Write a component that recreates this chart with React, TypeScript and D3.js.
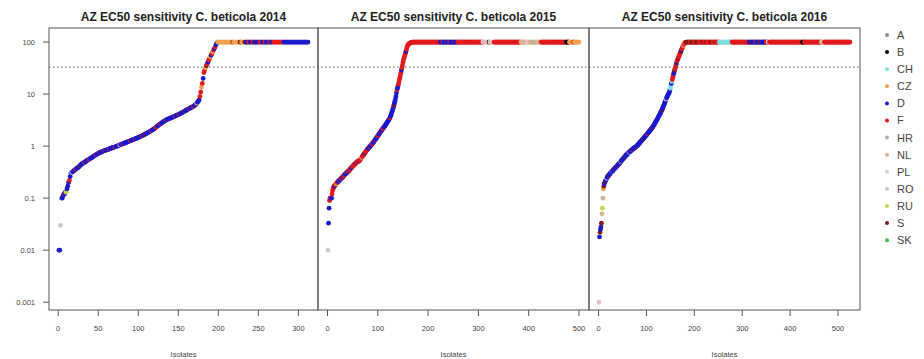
import React from "react";
import * as d3 from "d3";

const W = 924;
const H = 359;

// legend order + colours
const countries = ["A", "B", "CH", "CZ", "D", "F", "HR", "NL", "PL", "RO", "RU", "S", "SK"];
const countryColors = ["#8c8c8c", "#000000", "#7fdde0", "#f0a050", "#1a1acd", "#e31a1c", "#b0b0b0", "#d8b090", "#e6c3c3", "#c8c8c8", "#c5d44a", "#8b1a1a", "#3ec43e"];
// one-letter codes used in the origin strings below
const codeOf: Record<string, string> = { a: "A", b: "B", c: "CH", z: "CZ", d: "D", f: "F", h: "HR", n: "NL", p: "PL", o: "RO", u: "RU", s: "S", k: "SK" };

const years = ["2014", "2015", "2016"];

// sorted EC50 values below the cap
const curve2014 = [
  0.01, 0.01, 0.03, 0.1,
  0.1, 0.11, 0.12, 0.12, 0.13, 0.13,
  0.15, 0.17, 0.2, 0.22, 0.26, 0.3,
  0.31, 0.32, 0.33, 0.34, 0.35, 0.36, 0.37, 0.38, 0.39, 0.4, 0.42, 0.43, 0.45, 0.46,
  0.47, 0.48, 0.49, 0.5, 0.51, 0.53, 0.54, 0.55, 0.56, 0.58, 0.59, 0.6, 0.62, 0.63, 0.65, 0.66, 0.68, 0.69, 0.71, 0.72, 0.74,
  0.75, 0.76, 0.77, 0.78, 0.8, 0.81, 0.82, 0.83, 0.84, 0.85, 0.86, 0.87, 0.88, 0.9, 0.91, 0.92, 0.93, 0.94, 0.96, 0.97, 0.98, 1.0, 1.0, 1.02, 1.04, 1.05, 1.07, 1.08, 1.1, 1.11, 1.13, 1.14, 1.16, 1.18, 1.19, 1.21, 1.23, 1.25, 1.27, 1.28, 1.3,
  1.32, 1.34, 1.36, 1.38, 1.4, 1.42, 1.44, 1.46, 1.49, 1.51, 1.54, 1.56, 1.59, 1.62, 1.65, 1.68, 1.71, 1.74, 1.78, 1.81, 1.85, 1.89, 1.93, 1.97, 2.02, 2.06, 2.11, 2.16, 2.22, 2.3,
  2.36, 2.43, 2.5, 2.57, 2.64, 2.7, 2.77, 2.84, 2.9, 2.97, 3.05, 3.12, 3.2,
  3.25, 3.3, 3.35, 3.4, 3.45, 3.5, 3.55, 3.6, 3.66, 3.72, 3.78, 3.84, 3.9, 3.97, 4.04, 4.1, 4.18, 4.26, 4.34, 4.42, 4.5, 4.6, 4.7, 4.8, 4.9,
  5.0, 5.1, 5.2, 5.3, 5.4, 5.5, 5.6, 5.7, 5.8, 6.0, 6.2, 6.4, 6.7, 7.0, 7.3, 7.7,
  9, 11, 13.6, 16, 20, 26, 29, 32, 35, 38, 41, 45, 48, 52, 56, 60, 65, 70, 75, 80, 88, 95,
];
const curve2015 = [
  0.01, 0.033, 0.064, 0.09, 0.1, 0.1, 0.1, 0.1, 0.12,
  0.14, 0.15, 0.16, 0.17, 0.17, 0.18, 0.18, 0.19, 0.19, 0.2, 0.2, 0.21, 0.21, 0.22, 0.22, 0.23, 0.23, 0.24, 0.24, 0.25, 0.25,
  0.26, 0.27, 0.27, 0.28, 0.29, 0.29, 0.3, 0.31, 0.31, 0.32, 0.33, 0.33, 0.34, 0.35,
  0.36, 0.37, 0.38, 0.39, 0.4, 0.41, 0.42, 0.43, 0.44, 0.45, 0.46, 0.47, 0.48, 0.49, 0.5, 0.5, 0.51, 0.52, 0.52, 0.53,
  0.55, 0.57, 0.59, 0.61, 0.63, 0.65, 0.67, 0.69, 0.71, 0.73, 0.76, 0.78, 0.81, 0.84,
  0.86, 0.88, 0.9, 0.92, 0.95, 0.97, 1.0, 1.02, 1.05, 1.08, 1.11, 1.14, 1.17, 1.21, 1.25, 1.3,
  1.34, 1.38, 1.42, 1.47, 1.52, 1.57, 1.62, 1.68, 1.74, 1.8,
  1.86, 1.92, 1.98, 2.04, 2.1, 2.16, 2.23, 2.3, 2.37, 2.44, 2.52, 2.6, 2.7, 2.8,
  2.9, 3.0, 3.1, 3.2, 3.35, 3.5, 3.7, 3.9, 4.2, 4.5,
  4.8, 5.2, 5.6, 6.1, 6.7, 7.3, 8.0, 9.0, 10.5, 12,
  13, 14, 15.5, 17, 19, 21, 23.5, 26, 29, 32, 36, 41,
  45, 49, 53, 57, 61, 66, 72, 80, 84, 87, 90, 92, 94, 95, 96, 97, 98, 99,
];
const curve2016 = [
  0.001, 0.018, 0.022, 0.025, 0.028, 0.033, 0.05, 0.064, 0.1, 0.15,
  0.17, 0.19, 0.2, 0.21, 0.22, 0.23, 0.24,
  0.25, 0.26, 0.27, 0.27, 0.28, 0.29, 0.3, 0.3, 0.31, 0.32, 0.33, 0.33, 0.34, 0.35, 0.36, 0.37, 0.37, 0.38, 0.39, 0.4, 0.41, 0.42, 0.43, 0.44, 0.45, 0.46, 0.47, 0.48, 0.5, 0.51, 0.53,
  0.54, 0.55, 0.57, 0.58, 0.6, 0.61, 0.63, 0.64, 0.66, 0.67, 0.69, 0.7, 0.72, 0.73, 0.75, 0.76, 0.78, 0.79, 0.81, 0.82, 0.84, 0.85, 0.87, 0.88, 0.9, 0.91, 0.93, 0.94, 0.96, 0.97, 0.99, 1.01, 1.03, 1.05, 1.08, 1.1,
  1.13, 1.16, 1.19, 1.22, 1.25, 1.28, 1.31, 1.34, 1.37, 1.4, 1.44, 1.48, 1.52, 1.56, 1.6, 1.64, 1.68, 1.72, 1.77, 1.82, 1.87, 1.92, 1.97, 2.02, 2.08, 2.14, 2.2, 2.26, 2.33, 2.4, 2.48, 2.56, 2.65, 2.78, 2.9,
  3.0, 3.1, 3.2, 3.35, 3.5, 3.65, 3.8, 3.95, 4.1, 4.3, 4.5, 4.7, 4.9, 5.1, 5.4, 5.7, 6.0, 6.3, 6.7, 7.1, 7.5, 8.0, 8.4, 8.8, 9.2, 9.6, 10,
  10.5, 11, 12, 13, 14.5, 16, 17.5, 19, 21, 23, 25, 27, 29, 31, 34, 37, 40, 43, 46, 48, 51,
  54, 57, 60, 63, 66, 70, 74, 78, 82, 86, 90, 93, 96, 98, 99,
];

// isolates at the upper test limit
const capValue = 100;
const capped = [114, 332, 343];

// country of each isolate, in plot order (run-length: code + count)
const origin2014 =
  "d2 o1 h1 d2 f1 d2 u1 d3 f1 d2 p1 d4 f1 d4 s1 d3 d2 f1 d5 f1 d7 f1 d4 s1 d5 f1 d2 " +
  "d3 f1 d6 f1 d5 n1 d3 f1 d8 f1 d5 f1 d4 d4 f1 d3 s1 d6 f1 d5 f2 d4 f1 d6 f1 d5 " +
  "d5 f1 d4 f1 d6 s1 d5 f1 d4 f1 d3 z1 d3 f2 z1 f1 d1 f2 z1 s1 f1 d1 f2 z1 d1 f1 z1 f1 d1 f1 d1 d1 " +
  "z19 s1 z8 s2 z4 s2 d3 f2 d3 f2 d2 s1 d4 f3 d3 f2 d4 f2 d3 f13 d31";
const origin2015 =
  "o1 d2 f1 d1 f2 d1 f1 f4 d1 f3 u1 f2 d2 f1 d3 f2 d2 f1 d1 f2 d3 f1 d2 f2 d1 f3 d2 f2 " +
  "f5 d1 f6 d1 f4 p1 f5 d1 f6 d3 f1 d4 f2 d3 f1 d5 f2 d4 f1 d3 f2 d6 d6 f1 d7 s1 d5 f1 d2 f6 d1 f8 d1 f12 " +
  "f56 d4 f2 d6 f1 d5 f2 d8 f1 d5 f50 p4 n2 p3 o3 s2 o4 p4 f54 n12 p6 n8 h4 n10 f46 f4 b6 z8 f2 z10";
const origin2016 =
  "p1 d1 s1 d2 s1 n1 u1 n1 z1 s1 d2 s1 d2 p1 d4 s1 d5 n1 d4 f1 d6 s1 d5 z1 d2 " +
  "d6 s1 d8 n1 d5 f1 d7 s1 d6 d9 s1 d7 f1 d10 s1 d6 d12 s1 d8 p1 d5 " +
  "d3 c2 d1 c1 f3 d2 s1 f3 d1 f2 s1 f1 f4 s1 d1 f3 n1 f2 z1 f2 " +
  "s8 f3 s6 f4 s6 f8 b1 f6 s2 f9 b1 f7 s1 f7 c27 f36 d5 s2 d6 f2 d8 s3 d9 f4 o3 f4 f65 b4 f35 n7 f54";

const curves = [curve2014, curve2015, curve2016];
const origins = [origin2014, origin2015, origin2016];
const xTicks = [
  [0, 50, 100, 150, 200, 250, 300],
  [0, 100, 200, 300, 400, 500],
  [0, 100, 200, 300, 400, 500],
];
const yTicks = [100, 10, 1, 0.1, 0.01, 0.001];
const yTickLabels = ["100", "10", "1", "0.1", "0.01", "0.001"];
const threshold = 33;

const font = "'Liberation Sans', Arial, sans-serif";
const panelEdges = [49, 318, 589, 860];
const top = 28;
const bottom = 310;

const colorOf = d3.scaleOrdinal<string, string>().domain(countries).range(countryColors);

const expand = (rle: string) =>
  rle
    .trim()
    .split(/\s+/)
    .flatMap((tok) => Array(+tok.slice(1)).fill(codeOf[tok[0]]));

const y = d3
  .scaleLog()
  .domain([Math.pow(10, -3.15), Math.pow(10, 2.27)])
  .range([bottom, top]);

function Panel({ idx }: { idx: number }) {
  const values = curves[idx].concat(Array(capped[idx]).fill(capValue));
  const origin = expand(origins[idx]);
  const n = values.length;
  const pad = 0.04 * (n - 1);
  const left = panelEdges[idx];
  const right = panelEdges[idx + 1];
  const x = d3.scaleLinear().domain([1 - pad, n + pad]).range([left, right]);
  const cx = (left + right) / 2;

  return (
    <g>
      <text x={cx} y={21} textAnchor="middle" fontFamily={font} fontWeight="bold" fontSize={12} fill="#222">
        AZ EC50 sensitivity C. beticola {years[idx]}
      </text>
      {values.map((v, i) => (
        <circle key={i} cx={x(i + 1)} cy={y(v)} r={2.4} fill={colorOf(origin[i] ?? "D")} />
      ))}
      <rect x={left} y={top} width={right - left} height={bottom - top} fill="none" stroke="#555" strokeWidth={1} />
      {xTicks[idx].map((t) => (
        <g key={t} transform={`translate(${x(t)},${bottom})`}>
          <line y1={0} y2={6} stroke="#555" />
          <text y={21} textAnchor="middle" fontFamily={font} fontSize={7.5} fill="#444">
            {t}
          </text>
        </g>
      ))}
      <text x={cx} y={357} textAnchor="middle" fontFamily={font} fontSize={7.5} fill="#444">
        Isolates
      </text>
    </g>
  );
}

export default function App() {
  return (
    <div style={{ position: "absolute", left: 0, top: 0 }}>
      <svg width={W} height={H} style={{ display: "block", background: "#fff" }}>
        {[0, 1, 2].map((i) => (
          <Panel key={i} idx={i} />
        ))}
        <line
          x1={panelEdges[0]}
          x2={panelEdges[3]}
          y1={y(threshold)}
          y2={y(threshold)}
          stroke="#555"
          strokeDasharray="1.5 2.5"
        />
        {yTicks.map((t, i) => (
          <g key={t} transform={`translate(${panelEdges[0]},${y(t)})`}>
            <line x1={0} x2={-6} stroke="#555" />
            <text x={-14} dy="0.35em" textAnchor="end" fontFamily={font} fontSize={7.5} fill="#444">
              {yTickLabels[i]}
            </text>
          </g>
        ))}
        {countries.map((c, i) => (
          <g key={c} transform={`translate(887,${35 + i * 17.1})`}>
            <circle r={2} fill={countryColors[i]} />
            <text x={10} dy="0.36em" fontFamily={font} fontSize={11} fill="#444">
              {c}
            </text>
          </g>
        ))}
      </svg>
    </div>
  );
}
